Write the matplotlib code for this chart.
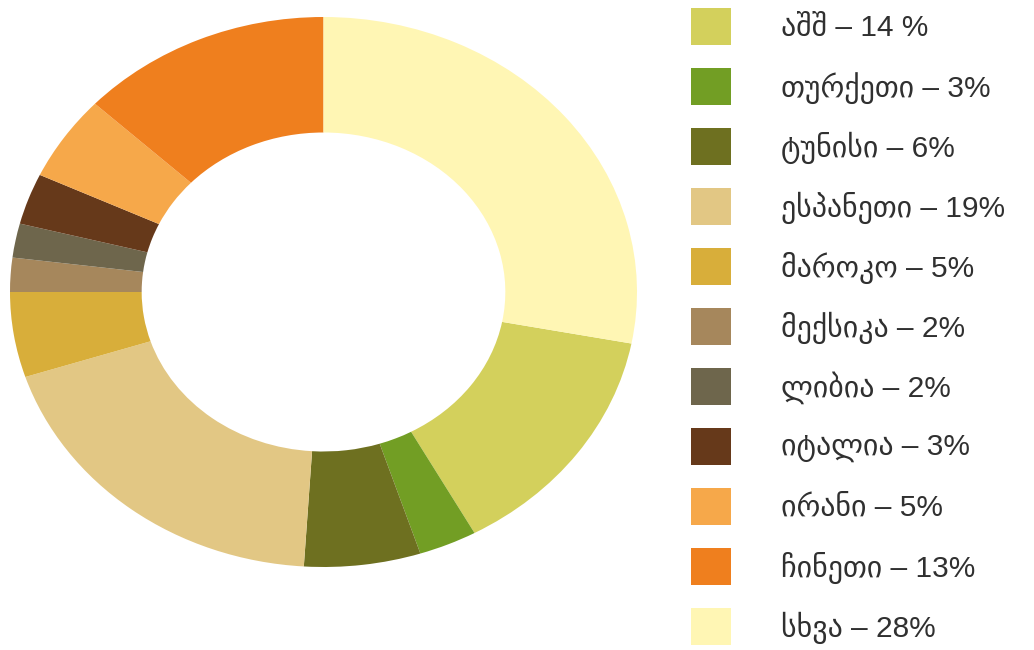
import matplotlib
matplotlib.use("Agg")
import matplotlib.pyplot as plt
from matplotlib.patches import Rectangle

plt.rcParams['font.family'] = ['Liberation Sans', 'DejaVu Sans']

# data, legend order
countries = ["აშშ", "თურქეთი", "ტუნისი", "ესპანეთი", "მაროკო", "მექსიკა",
             "ლიბია", "იტალია", "ირანი", "ჩინეთი", "სხვა"]
shares = [14, 3, 6, 19, 5, 2, 2, 3, 5, 13, 28]
labels = ["აშშ – 14 %", "თურქეთი – 3%", "ტუნისი – 6%", "ესპანეთი – 19%",
          "მაროკო – 5%", "მექსიკა – 2%", "ლიბია – 2%", "იტალია – 3%",
          "ირანი – 5%", "ჩინეთი – 13%", "სხვა – 28%"]
colors = ["#d3d05c", "#729e24", "#6e7020", "#e2c784", "#d8ae3a", "#a6875c",
          "#6e664c", "#66391a", "#f6a84a", "#ef7f1e", "#fff6b4"]

W, H = 1034, 650
fig = plt.figure(figsize=(W / 100, H / 100), dpi=100, facecolor='white')

# donut (slightly squashed, like the original)
ax = fig.add_axes([10 / W, (H - 567) / H, 627 / W, 550 / H])
start = 90 - 360 * shares[-1] / sum(shares)
ax.pie(shares, colors=colors, startangle=start, counterclock=False,
       radius=1, wedgeprops=dict(width=0.42, linewidth=0))
ax.set_aspect('auto')
ax.set_xlim(-1, 1)
ax.set_ylim(-1, 1)
ax.axis('off')

# legend
for i, (lab, col) in enumerate(zip(labels, colors)):
    top = 8 + i * 60
    fig.patches.append(Rectangle((691 / W, 1 - (top + 37) / H), 40 / W, 37 / H,
                                 transform=fig.transFigure, facecolor=col,
                                 edgecolor='none'))
    fig.text(781 / W, 1 - (top + 20) / H, lab, fontsize=21.5, color='#303030',
             va='center', ha='left')

fig.savefig("out.png", dpi=100, facecolor='white')
